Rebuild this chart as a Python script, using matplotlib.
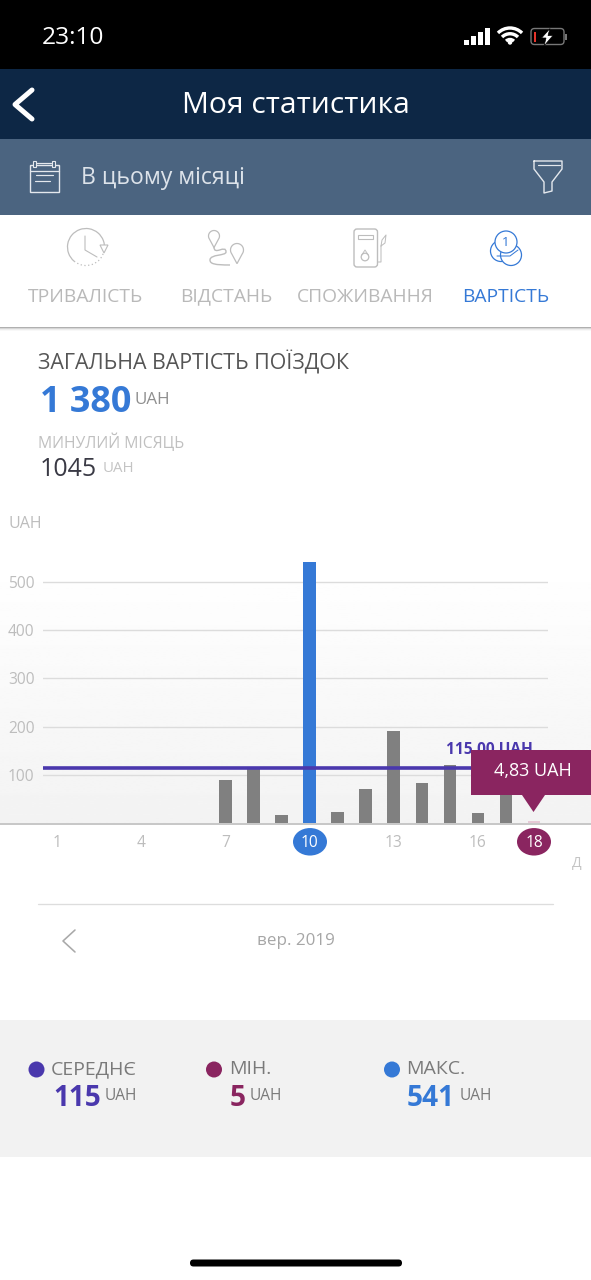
import matplotlib
matplotlib.use('Agg')
import matplotlib.pyplot as plt
import numpy as np
from matplotlib.patches import Rectangle, FancyBboxPatch, Circle, Ellipse, Polygon, Arc, PathPatch
from matplotlib.path import Path

plt.rcParams['font.family'] = ['Open Sans', 'Noto Sans', 'DejaVu Sans']

# дані графіка
days = list(range(7, 19))
costs = [90, 115, 17, 541, 24, 71, 191, 84, 122, 22, 72, 4.83]
y_ticks = [100, 200, 300, 400, 500]
x_ticks = [1, 4, 7, 10, 13, 16, 18]
mean_value = 115
max_day = 10
min_day = 18
tabs = ['ТРИВАЛІСТЬ', 'ВІДСТАНЬ', 'СПОЖИВАННЯ', 'ВАРТІСТЬ']
tab_x = [85.5, 226, 365, 505.5]
stat_labels = ['СЕРЕДНЄ', 'МІН.', 'МАКС.']
stat_values = ['115', '5', '541']

W, H = 591, 1280
BLUE = '#3579d6'
PURPLE = '#4a38ad'
MAGENTA = '#8a2560'
BAR = '#808080'
LIGHT = '#b9b9b9'
ICON = '#bdbdbd'

fig = plt.figure(figsize=(W / 100, H / 100), dpi=100, facecolor='white')


def pixel_axes(z):
    a = fig.add_axes([0, 0, 1, 1], zorder=z)
    a.set_xlim(0, W)
    a.set_ylim(H, 0)
    a.axis('off')
    a.patch.set_alpha(0)
    return a


def txt(a, x, y, s, px, color, ha='left', weight='normal', **kw):
    # va=center сидить трохи вище, тому +1.5
    return a.text(x, y + 1.5, s, fontsize=px * 0.72, color=color, ha=ha, va='center', fontweight=weight, **kw)


def line(a, xs, ys, color, lw=1.0):
    a.plot(xs, ys, color=color, lw=lw * 0.72, solid_capstyle='round', solid_joinstyle='round')


def pin(a, x, y, r, color, lw=0.9):
    # крапля з вістрям донизу
    t = np.radians(np.linspace(-215, 35, 30))
    xs = list(x + r * np.cos(t)) + [x]
    ys = list(y + r * np.sin(t)) + [y + r * 2.1]
    a.add_patch(Polygon(np.column_stack([xs, ys]), fc='none', ec=color, lw=lw))


bg = pixel_axes(0)
top = pixel_axes(2)

# шапка
bg.add_patch(Rectangle((0, 0), W, 69, fc='black', ec='none'))
bg.add_patch(Rectangle((0, 69), W, 70, fc='#0d2745', ec='none'))
bg.add_patch(Rectangle((0, 139), W, 76, fc='#4b6480', ec='none'))
txt(bg, 42, 36, '23:10', 24.5, 'white', weight='medium')
for i, h in enumerate([5, 9, 13, 17]):
    bg.add_patch(Rectangle((464 + i * 7, 44.5 - h), 5, h, fc='white', ec='none'))
# wifi
for d in [34, 22.5, 11]:
    bg.add_patch(Arc((510, 45), d, d, theta1=225, theta2=315, ec='white', lw=3.4 * 0.72))
bg.add_patch(Circle((510, 42.5), 2.2, fc='white', ec='none'))
# батарея
bg.add_patch(FancyBboxPatch((531, 28.5), 33, 16, boxstyle='round,pad=0,rounding_size=3.5', fc='none', ec='#777777', lw=1))
bg.add_patch(Rectangle((533.5, 32), 2.5, 9.5, fc='#e5342b', ec='none'))
bg.add_patch(Rectangle((565, 34), 1.5, 5.5, fc='#777777', ec='none'))
bg.add_patch(Polygon([[550, 28.5], [541.5, 38], [546, 38], [544, 46], [553, 35.5], [548, 35.5]], fc='white', ec='black', lw=0.5))

line(bg, [32, 15, 32], [90, 104.5, 119], 'white', 5)
txt(bg, 295.5, 104, 'Моя статистика', 30, 'white', ha='center')
txt(bg, 81, 176, 'В цьому місяці', 23, '#dde3ea')

# календар
bg.add_patch(Rectangle((30, 165), 29, 27, fc='none', ec='#e4e8ed', lw=1))
line(bg, [30, 59], [171, 171], '#e4e8ed', 1.3)
line(bg, [36, 53], [175, 175], '#e4e8ed', 1.2)
line(bg, [35, 50], [181, 181], '#e4e8ed', 1.2)
for x in [34, 53]:
    bg.add_patch(Rectangle((x - 1.5, 160.5), 3, 6, fc='#4b6480', ec='#e4e8ed', lw=0.8))
line(bg, [36, 51], [162.5, 162.5], '#e4e8ed', 1.2)
# фільтр
line(bg, [534, 562, 562, 552, 552, 544, 544, 534, 534], [161, 161, 169, 182, 191, 193, 182, 169, 161], '#e4e8ed', 1.4)
line(bg, [538, 560], [165, 165], '#e4e8ed', 1.2)

# вкладки
for i, (t, x) in enumerate(zip(tabs, tab_x)):
    txt(bg, x, 295, t, 19.3, BLUE if i == 3 else LIGHT, ha='center')
# годинник
bg.add_patch(Arc((86, 247), 37, 37, theta1=130, theta2=10, ec=ICON, lw=0.9))
bg.add_patch(Arc((86, 247), 37, 37, theta1=10, theta2=130, ec=ICON, lw=0.9, ls=(0, (1, 2))))
line(bg, [85, 85, 97], [236, 250, 257], ICON, 1.1)
bg.add_patch(Polygon([[100, 245], [108, 245], [104, 253]], fc='white', ec=ICON, lw=0.8))
# маршрут
pin(bg, 214, 236, 5.5, ICON)
pin(bg, 237, 250, 6.5, ICON)
route = Path([(214, 247), (214, 256), (226, 244), (226, 252), (226, 256), (210, 254), (210, 260), (210, 264), (215, 265), (230, 265)],
             [Path.MOVETO] + [Path.CURVE4] * 9)
bg.add_patch(PathPatch(route, fc='none', ec=ICON, lw=1.0))
# заправка
bg.add_patch(FancyBboxPatch((354, 229), 23.5, 38, boxstyle='round,pad=0,rounding_size=3', fc='none', ec=ICON, lw=1))
bg.add_patch(Rectangle((358, 235), 15, 3.5, fc='none', ec=ICON, lw=0.8))
bg.add_patch(Circle((365, 257), 3.8, fc='none', ec=ICON, lw=0.9))
line(bg, [361.7, 365, 368.3], [255, 250, 255], ICON, 0.9)
line(bg, [377.5, 381, 381, 385, 386, 382, 381], [262, 262, 246, 243, 235, 240, 246], ICON, 1.0)
# монети
for x, y, r in [(501, 251, 10.5), (511, 255, 10.5), (506, 242, 11)]:
    bg.add_patch(Circle((x, y), r, fc='white', ec=BLUE, lw=0.9))
txt(bg, 506, 240.5, '1', 13, BLUE, ha='center')
line(bg, [497, 510, 518], [256, 256, 250], BLUE, 1.0)

# тінь під вкладками
for i, c in enumerate(['#b0b0b0', '#d6d6d6', '#ededed', '#f8f8f8']):
    bg.add_patch(Rectangle((0, 327 + i), W, 1, fc=c, ec='none'))

# підсумок
txt(bg, 38, 361.5, 'ЗАГАЛЬНА ВАРТІСТЬ ПОЇЗДОК', 21.4, '#555555')
txt(bg, 40, 401.5, '1 380', 36, BLUE, weight='bold')
txt(bg, 135, 398, 'UAH', 17, '#8f8f8f')
txt(bg, 38, 441, 'МИНУЛИЙ МІСЯЦЬ', 15.8, '#c0c0c0')
txt(bg, 40, 468.5, '1045', 25, '#3a3a45')
txt(bg, 103, 467, 'UAH', 15, '#c4c4c4')
txt(bg, 8, 522.5, 'UAH', 16, '#bdbdbd')

# фон графіка
grad = np.linspace(1, 0.952, 128).reshape(-1, 1)
bg.imshow(grad, cmap='gray', vmin=0, vmax=1, extent=[0, W, 823, 560], aspect='auto', zorder=0)
bg.set_xlim(0, W)
bg.set_ylim(H, 0)

# бейджі під підписами осі
bg.add_patch(Ellipse((310, 841.8), 34, 27.5, fc=BLUE, ec='none'))
bg.add_patch(Ellipse((534, 841.8), 34, 27.5, fc=MAGENTA, ec='none'))

# сам графік
base_px = 823.5
px_per_unit = 0.4835
top_px = 540
ax = fig.add_axes([43 / W, 1 - base_px / H, 505 / W, (base_px - top_px) / H], zorder=1)
ax.patch.set_alpha(0)
ax.set_xlim(0.5, 18.5)
ax.set_ylim(0, (base_px - top_px) / px_per_unit)
bar_colors = [BLUE if d == max_day else '#e6c9d6' if d == min_day else BAR for d in days]
ax.set_axisbelow(True)
ax.grid(axis='y', color='#dcdcdc', lw=1.0)
ax.bar(days, costs, width=0.445, color=bar_colors, zorder=2)
ax.plot([0.5, 19.5], [mean_value, mean_value], color=PURPLE, lw=2.6, clip_on=False, zorder=3, solid_capstyle='butt')
ax.text(14.87, mean_value + 36, '115,00 UAH', color=PURPLE, fontsize=15.5 * 0.72, fontweight='bold', va='center', ha='left', zorder=1)
for s in ax.spines.values():
    s.set_visible(False)
ax.set_xticks(x_ticks)
ax.set_yticks(y_ticks)
ax.tick_params(axis='both', length=0)
ax.tick_params(axis='x', labelsize=15.5 * 0.72, labelcolor='#bdbdbd', pad=8.5)
ax.tick_params(axis='y', labelsize=15.5 * 0.72, labelcolor='#bdbdbd', pad=6)
for lab, d in zip(ax.get_xticklabels(), x_ticks):
    if d in (max_day, min_day):
        lab.set_color('white')

# базова лінія
top.add_patch(Rectangle((0, 822.5), W, 2.5, fc='#c8c8c8', ec='none'))

# підказка
top.add_patch(Rectangle((471, 750), 120, 45, fc=MAGENTA, ec='none'))
top.add_patch(Polygon([[522, 795], [545, 795], [533.5, 812]], fc=MAGENTA, ec='none'))
txt(top, 533, 769.5, '4,83 UAH', 18, 'white', ha='center')

txt(top, 577, 861.5, 'Д', 14, '#c4c4c4', ha='center')
line(top, [38, 553], [904, 904], '#dddddd', 1.3)
line(top, [75, 63, 75], [930, 941, 952], '#a9a9a9', 1.6)
txt(top, 295.5, 939.5, 'вер. 2019', 17, '#a6a6a6', ha='center')

# нижня панель
bg.add_patch(Rectangle((0, 1020), W, 137, fc='#f2f2f2', ec='none'))
for x, y, c in [(36.5, 1069.5, PURPLE), (214, 1069.5, MAGENTA), (392, 1069.5, BLUE)]:
    top.add_patch(Circle((x, y), 8, fc=c, ec='none'))
txt(top, 51, 1068, stat_labels[0], 19.5, '#7a7a7a')
txt(top, 229, 1068, stat_labels[1], 19.5, '#7a7a7a')
txt(top, 406, 1068, stat_labels[2], 19.5, '#7a7a7a')
txt(top, 53, 1097, stat_values[0], 28, PURPLE, weight='bold')
txt(top, 230, 1097, stat_values[1], 28, MAGENTA, weight='bold')
txt(top, 407, 1097, stat_values[2], 28, BLUE, weight='bold')
for x in [105, 250, 460]:
    txt(top, x, 1094, 'UAH', 15.5, '#7a7a7a')

# home indicator
top.add_patch(FancyBboxPatch((190, 1259.5), 212, 7, boxstyle='round,pad=0,rounding_size=3.5', fc='black', ec='none'))

fig.savefig('out.png', dpi=100)
